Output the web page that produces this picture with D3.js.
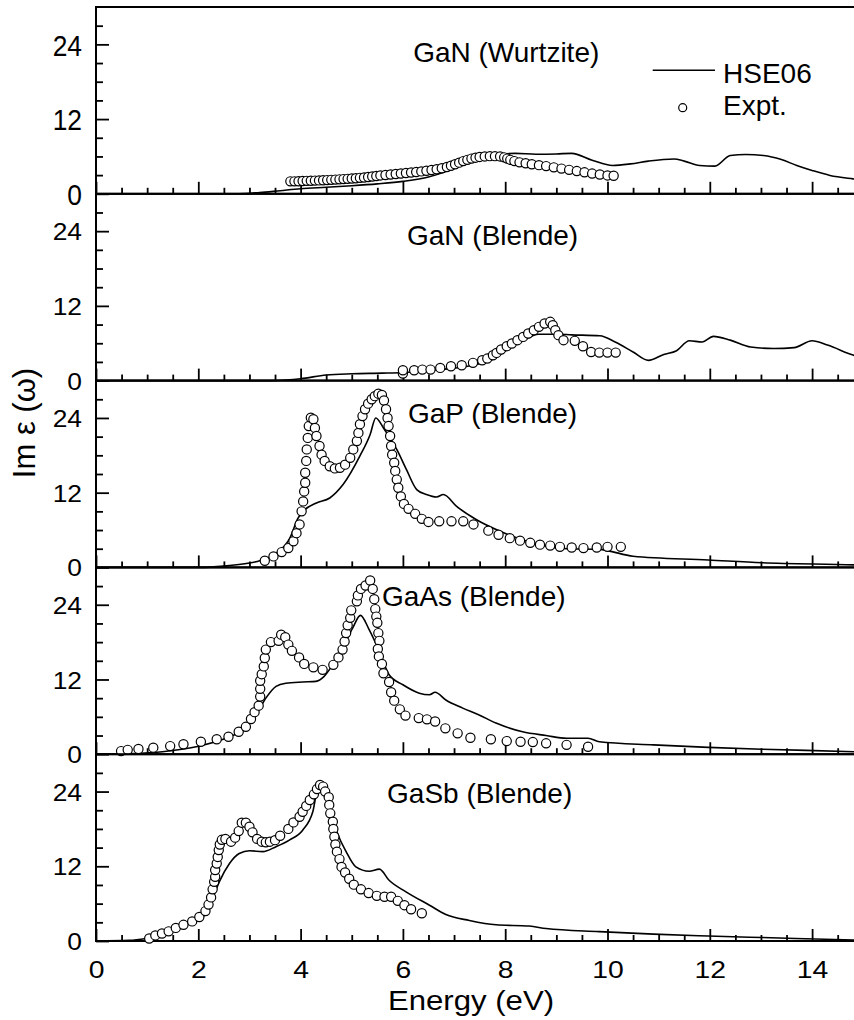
<!DOCTYPE html>
<html>
<head>
<meta charset="utf-8">
<title>Im eps</title>
<script src="https://cdnjs.cloudflare.com/ajax/libs/d3/7.8.5/d3.min.js"></script>
<style>
    body { margin: 0; background: #fff; }
    #chart-area { width: 854px; height: 1020px; }
    text { font-family: "Liberation Sans", Arial, sans-serif; fill: #000; }
</style>
</head>
<body>
<div id="chart-area"></div>
<script>

// tick labels
const energyTicks = [0, 2, 4, 6, 8, 10, 12, 14];
const energyMinor = [0.5, 1, 1.5, 2.5, 3, 3.5, 4.5, 5, 5.5, 6.5, 7, 7.5, 8.5, 9, 9.5, 10.5, 11, 11.5, 12.5, 13, 13.5, 14.5];
const epsTicks = [0, 12, 24];
const epsMinor = [3, 6, 9, 15, 18, 21, 27];

const materials = ["GaN (Wurtzite)", "GaN (Blende)", "GaP (Blende)", "GaAs (Blende)", "GaSb (Blende)"];
const seriesNames = ["HSE06", "Expt."];

// HSE06 curves, [energy eV, Im eps]
const hseGaNW = [[0,0],[2.8,0],[3.2,0.2],[3.6,0.5],[4.0,0.8],[4.5,1.05],[5.0,1.3],[5.5,1.6],[6.0,2.0],[6.5,2.7],[6.9,3.8],[7.15,5.0],[7.5,6.0],[7.8,6.3],[8.2,6.5],[8.6,6.35],[9.0,6.4],[9.3,6.5],[9.7,5.4],[10.1,4.55],[10.45,4.8],[10.8,5.25],[11.3,5.6],[11.5,5.25],[11.8,4.55],[12.1,4.45],[12.4,6.15],[12.7,6.3],[13.05,6.15],[13.4,5.5],[13.7,4.55],[14.0,3.75],[14.35,2.95],[14.8,2.4],[15,2.2]];
const hseGaNZ = [[0,0],[3.4,0],[3.7,0.1],[4.0,0.3],[4.5,0.9],[5.0,1.1],[5.6,1.2],[6.0,1.3],[6.6,1.7],[7.0,2.0],[7.5,2.7],[7.8,3.6],[8.05,5.1],[8.35,6.4],[8.65,7.45],[9.0,7.45],[9.3,7.35],[9.85,7.2],[10.15,6.2],[10.5,4.6],[10.8,3.25],[11.1,4.2],[11.35,4.8],[11.6,6.4],[11.85,6.2],[12.07,7.1],[12.4,6.5],[12.8,5.4],[13.25,5.15],[13.65,5.3],[14.0,6.4],[14.3,5.7],[14.8,4.1],[15,3.6]];
const hseGaP = [[0,0],[2.0,0],[2.5,0.2],[3.0,0.7],[3.2,1.07],[3.53,2.3],[3.79,4.7],[3.95,7.9],[4.05,9.0],[4.31,10.35],[4.57,11.15],[4.83,13.3],[5.16,17.9],[5.36,21.35],[5.47,24.0],[5.62,22.4],[5.88,18.95],[6.07,15.7],[6.27,12.5],[6.46,11.7],[6.66,11.3],[6.79,11.7],[7.05,9.8],[7.44,7.65],[7.9,5.8],[8.55,3.9],[9.2,3.0],[9.85,2.9],[10.0,2.7],[10.5,1.8],[11.97,1.2],[13.03,0.75],[14.82,0.4],[15,0.35]];
const hseGaAs = [[0,0],[0.5,0.05],[1.3,0.4],[1.96,1.2],[2.61,2.8],[2.93,4.15],[3.13,6.3],[3.32,9.0],[3.52,10.9],[3.71,11.4],[4.04,11.6],[4.3,11.7],[4.46,12.5],[4.63,14.4],[4.82,17.05],[5.02,20.3],[5.17,22.3],[5.34,20.0],[5.54,16.5],[5.73,12.75],[6.0,11.15],[6.32,9.8],[6.52,9.55],[6.63,9.95],[6.84,8.7],[7.17,7.4],[7.49,6.3],[7.82,5.0],[8.34,3.6],[8.8,3.0],[9.2,2.55],[9.62,2.55],[9.84,2.0],[10.9,1.5],[11.97,1.1],[13.03,0.8],[14.82,0.4],[15,0.35]];
const hseGaSb = [[0,0],[0.65,0.1],[0.98,0.4],[1.3,0.9],[1.69,2.25],[2.02,3.6],[2.18,4.65],[2.28,6.8],[2.41,9.5],[2.61,12.45],[2.8,14.05],[3.0,14.5],[3.26,14.35],[3.52,15.15],[3.78,16.2],[4.04,17.8],[4.24,20.8],[4.35,24.8],[4.46,23.45],[4.6,20.5],[4.72,17.3],[4.89,14.35],[5.08,11.9],[5.34,11.2],[5.54,11.55],[5.73,9.75],[6.06,7.9],[6.52,5.75],[6.84,4.25],[7.3,3.3],[7.82,2.6],[8.47,2.4],[8.8,2.0],[9.84,1.5],[10.9,1.1],[11.97,0.8],[13.03,0.55],[14.82,0.15],[15,0.1]];

// experiment points
const exptGaNW = [[3.8,2.0],[3.88,2.0],[3.96,2.02],[4.04,2.05],[4.12,2.08],[4.2,2.1],[4.28,2.12],[4.36,2.15],[4.44,2.18],[4.52,2.2],[4.6,2.24],[4.68,2.28],[4.76,2.32],[4.84,2.36],[4.92,2.4],[5.0,2.45],[5.08,2.5],[5.16,2.56],[5.24,2.62],[5.32,2.7],[5.4,2.78],[5.48,2.86],[5.56,2.95],[5.66,3.02],[5.76,3.1],[5.86,3.18],[5.96,3.26],[6.06,3.34],[6.16,3.42],[6.26,3.5],[6.36,3.6],[6.46,3.7],[6.56,3.82],[6.66,3.95],[6.76,4.1],[6.86,4.3],[6.94,4.5],[7.02,4.75],[7.1,5.0],[7.18,5.25],[7.26,5.45],[7.34,5.65],[7.42,5.8],[7.5,5.92],[7.6,6.0],[7.7,6.05],[7.8,6.05],[7.9,6.0],[7.98,5.85],[8.04,5.65],[8.1,5.45],[8.18,5.25],[8.28,5.05],[8.4,4.9],[8.52,4.75],[8.66,4.6],[8.8,4.45],[8.95,4.25],[9.1,4.05],[9.25,3.85],[9.4,3.65],[9.55,3.45],[9.7,3.25],[9.85,3.1],[10.0,2.95],[10.12,2.9]];
const exptGaNZ = [[6.0,1.13],[6.0,1.66],[6.22,1.66],[6.38,1.77],[6.54,1.77],[6.73,2.04],[6.94,2.3],[7.15,2.47],[7.37,2.85],[7.55,3.27],[7.65,3.54],[7.76,4.07],[7.83,4.45],[7.92,4.99],[8.03,5.52],[8.13,5.95],[8.24,6.49],[8.35,7.02],[8.45,7.56],[8.56,8.1],[8.66,8.63],[8.77,9.17],[8.88,9.44],[8.93,8.9],[8.98,8.1],[9.04,7.3],[9.14,6.49],[9.36,6.38],[9.52,5.52],[9.68,4.6],[9.84,4.5],[10.0,4.5],[10.16,4.5]];
const exptGaP = [[3.3,1.07],[3.47,1.77],[3.63,2.46],[3.76,3.1],[3.86,4.2],[3.92,5.5],[3.98,6.9],[4.02,9.0],[4.05,10.6],[4.07,12.2],[4.09,13.6],[4.09,15.2],[4.11,17.1],[4.12,18.95],[4.14,20.8],[4.16,22.7],[4.2,24.05],[4.25,23.8],[4.28,22.4],[4.31,21.1],[4.37,19.5],[4.41,18.1],[4.47,17.1],[4.57,16.25],[4.67,15.9],[4.77,16.0],[4.87,16.5],[4.97,17.6],[5.03,18.95],[5.1,20.3],[5.13,21.6],[5.16,23.0],[5.21,24.3],[5.26,25.4],[5.32,26.3],[5.39,27.0],[5.45,27.5],[5.52,27.9],[5.59,27.7],[5.63,26.8],[5.67,25.4],[5.7,24.0],[5.72,22.7],[5.75,21.1],[5.77,19.5],[5.79,18.1],[5.83,16.8],[5.85,15.5],[5.88,14.1],[5.91,12.8],[5.96,11.4],[6.02,10.2],[6.11,9.4],[6.24,8.6],[6.37,7.8],[6.5,7.3],[6.71,7.4],[6.95,7.4],[7.18,7.4],[7.38,6.9],[7.67,5.9],[7.87,5.25],[8.09,4.7],[8.29,4.3],[8.49,3.95],[8.68,3.65],[8.88,3.5],[9.07,3.3],[9.3,3.2],[9.53,3.1],[9.79,3.2],[10.0,3.3],[10.26,3.3]];
const exptGaAs = [[0.49,0.5],[0.62,0.7],[0.83,0.85],[1.12,1.05],[1.45,1.3],[1.71,1.6],[2.05,2.0],[2.36,2.4],[2.59,2.8],[2.79,3.6],[2.93,4.4],[3.03,5.65],[3.1,6.75],[3.18,7.8],[3.21,9.25],[3.21,10.5],[3.21,11.8],[3.24,12.85],[3.28,14.1],[3.3,15.45],[3.32,16.8],[3.42,18.0],[3.57,18.2],[3.62,19.2],[3.7,18.8],[3.76,17.6],[3.83,16.6],[3.97,15.55],[4.07,14.5],[4.25,13.95],[4.43,13.55],[4.64,14.35],[4.74,15.55],[4.82,16.8],[4.86,18.1],[4.89,19.45],[4.92,20.7],[4.97,21.9],[4.99,23.1],[5.1,24.55],[5.12,25.5],[5.18,26.55],[5.27,27.1],[5.36,27.9],[5.41,26.55],[5.44,24.9],[5.46,23.3],[5.48,22.1],[5.5,21.1],[5.52,19.45],[5.54,18.2],[5.51,16.9],[5.53,15.7],[5.59,14.5],[5.62,13.0],[5.73,11.6],[5.77,9.95],[5.83,8.6],[5.94,7.2],[6.05,6.2],[6.31,5.8],[6.47,5.6],[6.63,5.25],[6.83,4.15],[7.07,3.35],[7.32,2.65],[7.72,2.4],[8.03,2.1],[8.3,2.0],[8.54,1.95],[8.8,1.75],[9.2,1.5],[9.62,1.2]];
const exptGaSb = [[1.04,0.4],[1.16,0.9],[1.29,1.2],[1.42,1.55],[1.56,2.1],[1.71,2.6],[1.88,3.15],[2.02,3.85],[2.14,4.8],[2.2,5.85],[2.25,7.0],[2.28,8.3],[2.31,9.5],[2.33,10.3],[2.33,11.4],[2.36,12.45],[2.38,13.5],[2.4,14.6],[2.42,15.5],[2.46,16.25],[2.53,16.4],[2.64,15.95],[2.72,16.6],[2.79,17.65],[2.85,19.0],[2.93,19.0],[3.0,18.35],[3.06,17.45],[3.15,16.4],[3.24,15.95],[3.32,15.85],[3.4,15.95],[3.5,16.2],[3.6,16.9],[3.76,18.0],[3.86,19.05],[3.98,19.95],[4.04,20.75],[4.11,21.7],[4.18,22.65],[4.26,23.55],[4.32,24.4],[4.38,25.05],[4.44,24.8],[4.48,24.0],[4.55,23.1],[4.56,21.85],[4.58,20.5],[4.63,19.15],[4.64,18.0],[4.66,16.75],[4.68,15.5],[4.71,14.35],[4.76,13.15],[4.8,11.9],[4.87,11.0],[4.95,10.0],[5.04,9.05],[5.18,8.3],[5.33,7.7],[5.49,7.25],[5.64,7.1],[5.77,7.1],[5.9,6.45],[6.03,5.75],[6.16,5.1],[6.37,4.45]];

const hseSeries = [hseGaNW, hseGaNZ, hseGaP, hseGaAs, hseGaSb];
const exptSeries = [exptGaNW, exptGaNZ, exptGaP, exptGaAs, exptGaSb];

/* * * * * * * * * * * * * *
*        PanelVis          *
* * * * * * * * * * * * * */

class PanelVis {
    constructor(svg, index, title, hseData, exptData, titleSpot, isLast) {
        this.svg = svg;
        this.index = index;
        this.title = title;
        this.hseData = hseData;
        this.exptData = exptData;
        this.titleSpot = titleSpot;
        this.isLast = isLast;

        this.initVis();
    }

    initVis() {
        let vis = this;

        vis.left = 96;
        vis.height = 186.8;
        vis.top = 7 + vis.index * vis.height;

        // energy scale is shared, panel runs a bit past the picture edge
        vis.x = d3.scaleLinear().domain([0, 15]).range([vis.left, vis.left + 15 * 51.15]);
        vis.y = d3.scaleLinear().domain([0, 30]).range([vis.top + vis.height, vis.top]);

        vis.g = vis.svg.append("g").attr("class", "panel");

        vis.updateVis();
    }

    updateVis() {
        let vis = this;
        let bottom = vis.top + vis.height;

        // minor and major ticks, pointing inward
        vis.g.append("g")
            .attr("class", "x-minor")
            .attr("transform", `translate(0,${bottom})`)
            .call(d3.axisBottom(vis.x).tickValues(energyMinor).tickSize(-6).tickSizeOuter(0).tickFormat(""));

        let xMajor = vis.g.append("g")
            .attr("class", "x-major")
            .attr("transform", `translate(0,${bottom})`)
            .call(d3.axisBottom(vis.x).tickValues(energyTicks).tickSize(-12).tickSizeOuter(0)
                .tickFormat(vis.isLast ? d3.format("d") : ""));

        xMajor.selectAll("text")
            .attr("y", null)
            .attr("dy", null)
            .attr("font-size", 24)
            .attr("transform", "translate(0,36.7) scale(1.18,1.03)");

        vis.g.append("g")
            .attr("class", "y-minor")
            .attr("transform", `translate(${vis.left},0)`)
            .call(d3.axisLeft(vis.y).tickValues(epsMinor).tickSize(-7).tickSizeOuter(0).tickFormat(""));

        let yMajor = vis.g.append("g")
            .attr("class", "y-major")
            .attr("transform", `translate(${vis.left},0)`)
            .call(d3.axisLeft(vis.y).tickValues(epsTicks).tickSize(-13).tickSizeOuter(0).tickFormat(d3.format("d")));

        // the top panel's labels come out taller in the original
        let sy = vis.index === 0 ? 1.35 : 1.08;
        yMajor.selectAll("text")
            .attr("x", null)
            .attr("dy", "0.36em")
            .attr("font-size", 22)
            .attr("transform", `translate(-14,0) scale(1.2,${sy})`);

        vis.g.selectAll(".domain").remove();
        vis.g.selectAll(".tick line").attr("stroke", "#000").attr("stroke-width", 1.8);
        vis.g.selectAll("g").attr("font-family", null);

        // frame
        vis.g.append("rect")
            .attr("x", vis.x(0))
            .attr("y", vis.top)
            .attr("width", vis.x(15) - vis.x(0))
            .attr("height", vis.height)
            .attr("fill", "none")
            .attr("stroke", "#000")
            .attr("stroke-width", 2);

        // HSE06 line
        let line = d3.line()
            .x(d => vis.x(d[0]))
            .y(d => vis.y(d[1]))
            .curve(d3.curveMonotoneX);

        vis.g.append("path")
            .datum(vis.hseData)
            .attr("class", "hse-line")
            .attr("d", line)
            .attr("fill", "none")
            .attr("stroke", "#000")
            .attr("stroke-width", 1.6);

        // experiment circles
        vis.g.append("g").attr("class", "expt")
            .selectAll("circle")
            .data(vis.exptData)
            .enter().append("circle")
            .attr("cx", d => vis.x(d[0]))
            .attr("cy", d => vis.y(d[1]))
            .attr("r", 4.6)
            .attr("fill", "#fff")
            .attr("stroke", "#000")
            .attr("stroke-width", 1.2);

        // material name
        vis.g.append("text")
            .attr("class", "panel-title")
            .attr("x", vis.x(vis.titleSpot[0]))
            .attr("y", vis.y(vis.titleSpot[1]))
            .attr("font-size", 28)
            .text(vis.title);
    }
}

// where each material name sits, in data units
const titleSpots = [[6.2, 21.2], [6.08, 21.8], [6.1, 23.2], [5.59, 23.75], [5.69, 22.1]];

let svg = d3.select("#chart-area").append("svg")
    .attr("width", 854)
    .attr("height", 1020);

let panels = materials.map((m, i) =>
    new PanelVis(svg, i, m, hseSeries[i], exptSeries[i], titleSpots[i], i === materials.length - 1));

// legend in the top panel
let legend = svg.append("g").attr("class", "legend");
legend.append("line")
    .attr("x1", 652.7).attr("x2", 715)
    .attr("y1", 70.3).attr("y2", 70.3)
    .attr("stroke", "#000").attr("stroke-width", 1.6);
legend.append("text")
    .attr("x", 723).attr("y", 83.3)
    .attr("font-size", 28)
    .text(seriesNames[0]);
legend.append("circle")
    .attr("cx", 682.7).attr("cy", 107.7).attr("r", 4)
    .attr("fill", "#fff").attr("stroke", "#000").attr("stroke-width", 1.2);
legend.append("text")
    .attr("x", 723).attr("y", 115)
    .attr("font-size", 28)
    .text(seriesNames[1]);

// axis titles
svg.append("text")
    .attr("x", 471).attr("y", 1010)
    .attr("text-anchor", "middle")
    .attr("font-size", 28)
    .attr("textLength", 166)
    .attr("lengthAdjust", "spacingAndGlyphs")
    .text("Energy (eV)");

svg.append("text")
    .attr("transform", "translate(35,423) rotate(-90)")
    .attr("text-anchor", "middle")
    .attr("font-size", 31)
    .text("Im ε (ω)");

</script>
</body>
</html>
